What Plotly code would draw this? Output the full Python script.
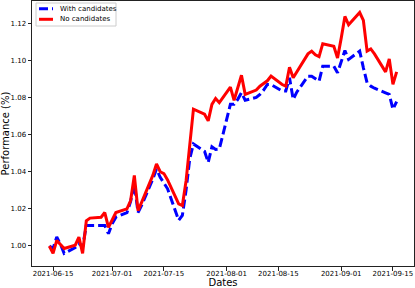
import pandas as pd
import plotly.graph_objects as go

dates = pd.bdate_range("2021-06-14", "2021-09-16")

with_candidates = [
    1.000, 0.9986, 1.0048, 1.001, 0.996,          # 06-14..06-18
    0.9991, 1.0013, 0.9995, 1.011, 1.011,         # 06-21..06-25
    1.011, 1.011, 1.0066, 1.012, 1.0155,          # 06-28..07-02
    1.018, 1.024, 1.0334, 1.018, 1.022,           # 07-05..07-09
    1.036, 1.0415, 1.037, 1.034, 1.0308,          # 07-12..07-16
    1.0138, 1.0165, 1.030, 1.047, 1.055,          # 07-19..07-23
    1.051, 1.045, 1.0534, 1.052, 1.0522,          # 07-26..07-30
    1.0763, 1.0763, 1.079, 1.0826, 1.0785,        # 08-02..08-06
    1.080, 1.0817, 1.084, 1.087, 1.087,           # 08-09..08-13
    1.0835, 1.0835, 1.0906, 1.079, 1.083,         # 08-16..08-20
    1.0915, 1.0915, 1.090, 1.0888, 1.0969,        # 08-23..08-27
    1.0969, 1.0933, 1.099, 1.1053, 1.1005,        # 08-30..09-03
    1.105, 1.096, 1.0879, 1.0861, 1.085,          # 09-06..09-10
    1.0825, 1.0817, 1.0737, 1.0778,               # 09-13..09-16
]

no_candidates = [
    1.000, 0.996, 1.003, 1.001, 0.9986,           # 06-14..06-18
    1.0004, 1.0048, 0.996, 1.0135, 1.015,         # 06-21..06-25
    1.0155, 1.018, 1.010, 1.014, 1.018,           # 06-28..07-02
    1.020, 1.0245, 1.038, 1.019, 1.0236,          # 07-05..07-09
    1.038, 1.0442, 1.040, 1.039, 1.0356,          # 07-12..07-16
    1.0227, 1.0218, 1.035, 1.055, 1.0737,         # 07-19..07-23
    1.071, 1.0674, 1.0763, 1.0795, 1.0772,        # 07-26..07-30
    1.0856, 1.0785, 1.085, 1.092, 1.0817,         # 08-02..08-06
    1.084, 1.0861, 1.0874, 1.089, 1.0915,         # 08-09..08-13
    1.087, 1.0861, 1.0963, 1.0906, 1.094,         # 08-16..08-20
    1.1035, 1.105, 1.103, 1.102, 1.109,           # 08-23..08-27
    1.1076, 1.1013, 1.112, 1.1237, 1.1192,        # 08-30..09-03
    1.1258, 1.1215, 1.105, 1.1062, 1.1035,        # 09-06..09-10
    1.0938, 1.1008, 1.0871, 1.0938,               # 09-13..09-16
]

x_ticks = ["2021-06-15", "2021-07-01", "2021-07-15", "2021-08-01",
           "2021-08-15", "2021-09-01", "2021-09-15"]
y_ticks = [1.00, 1.02, 1.04, 1.06, 1.08, 1.10, 1.12]

series = [
    ("With candidates", with_candidates, "#0000ff", "9px,4px"),
    ("No candidates", no_candidates, "#ff0000", "solid"),
]

W, H = 415, 288
ML, MR, MT, MB = 32, 1, 1, 22
PW, PH = W - ML - MR, H - MT - MB


def px(xp):
    return (xp - ML) / PW


def py(yp):
    return (H - MB - yp) / PH


fig = go.Figure()
for name, vals, color, dash in series:
    fig.add_trace(go.Scatter(x=dates, y=vals, mode="lines", name=name,
                             line=dict(color=color, width=3, dash=dash)))

axis_common = dict(showgrid=False, zeroline=False, showline=True,
                   linecolor="#222222", linewidth=1, mirror=True,
                   ticks="outside", ticklen=3.5, tickwidth=1, tickcolor="#222222",
                   automargin=False,
                   tickfont=dict(family="DejaVu Sans", size=7, color="#000000"))

fig.update_xaxes(**axis_common, type="date",
                 range=["2021-06-09 07:12", "2021-09-20 16:48"],
                 tickvals=x_ticks, ticktext=x_ticks, ticklabelstandoff=-3,
                 title=dict(text="Dates", standoff=2,
                            font=dict(family="DejaVu Sans", size=10, color="#000000")))
fig.update_yaxes(**axis_common, range=[0.9892, 1.1320],
                 tickvals=y_ticks, tickformat=".2f",
                 title=dict(text="Performance (%)", standoff=2,
                            font=dict(family="DejaVu Sans", size=10, color="#000000")))

# legend box drawn like the matplotlib legend
shapes = [dict(type="rect", xref="paper", yref="paper",
               x0=px(36), x1=px(116), y0=py(26), y1=py(3),
               line=dict(color="#cccccc", width=1),
               fillcolor="rgba(255,255,255,0.8)", layer="above")]
annotations = []
for i, (name, vals, color, dash) in enumerate(series):
    yc = 8.7 + i * 10.6
    shapes.append(dict(type="line", xref="paper", yref="paper",
                       x0=px(39), x1=px(53), y0=py(yc), y1=py(yc),
                       line=dict(color=color, width=3, dash=dash), layer="above"))
    annotations.append(dict(text=name, xref="paper", yref="paper",
                            x=px(58), y=py(yc), xanchor="left", yanchor="middle",
                            showarrow=False,
                            font=dict(family="DejaVu Sans", size=7, color="#000000")))

fig.update_layout(
    width=W, height=H,
    margin=dict(l=ML, r=MR, t=MT, b=MB),
    paper_bgcolor="#ffffff", plot_bgcolor="#ffffff",
    showlegend=False,
    shapes=shapes, annotations=annotations,
)

fig.write_html("out.html", config={"displayModeBar": False},
               post_script="document.body.style.margin='0';document.body.style.overflow='hidden';")
